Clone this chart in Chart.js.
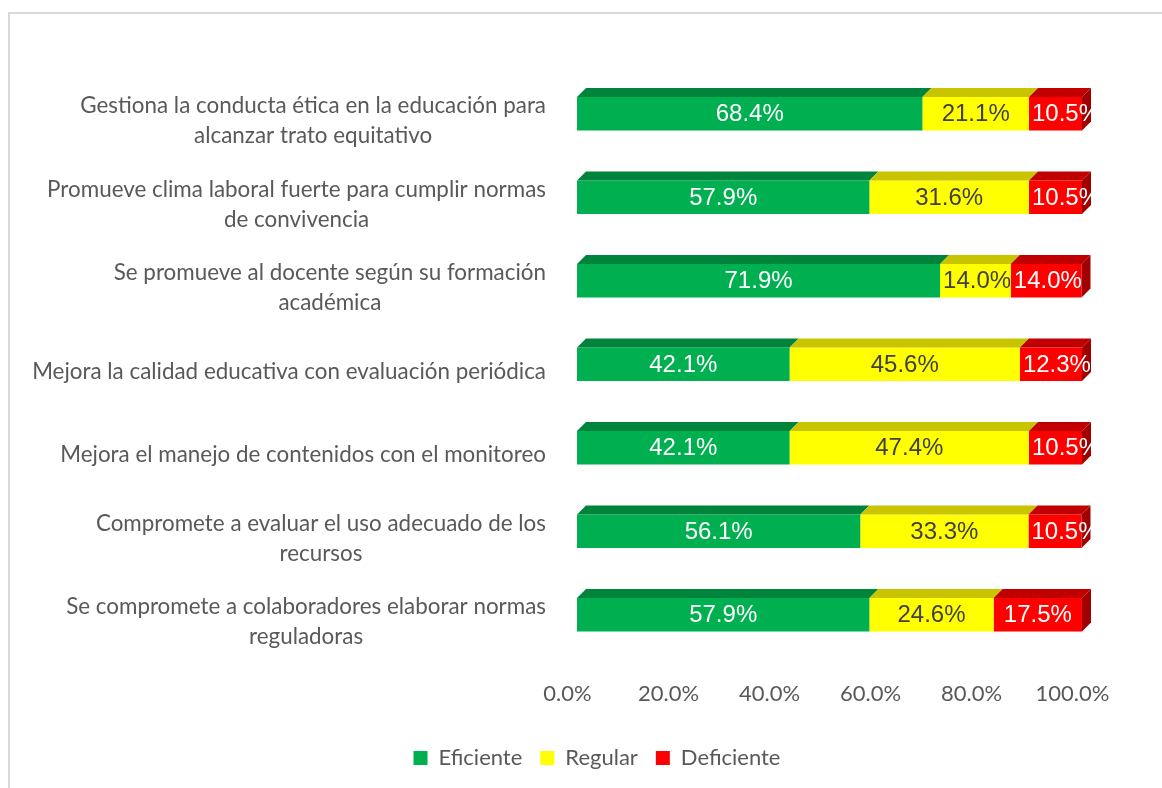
<!DOCTYPE html>
<html>
<head>
<meta charset="utf-8">
<script src="https://cdn.jsdelivr.net/npm/chart.js@4/dist/chart.umd.min.js"></script>
<style>
  body { margin: 0; background: #fff; }
</style>
</head>
<body>
<canvas id="chart" width="1162" height="788"></canvas>
<script>
const categories = [
  ["Gestiona la conducta ética en la educación para", "alcanzar trato equitativo"],
  ["Promueve clima laboral fuerte para cumplir normas", "de convivencia"],
  ["Se promueve al docente según su formación", "académica"],
  ["Mejora la calidad educativa con evaluación periódica"],
  ["Mejora el manejo de contenidos con el monitoreo"],
  ["Compromete a evaluar el uso adecuado de los", "recursos"],
  ["Se compromete a colaboradores elaborar normas", "reguladoras"]
];
const eficiente = [68.4, 57.9, 71.9, 42.1, 42.1, 56.1, 57.9];
const regular = [21.1, 31.6, 14.0, 45.6, 47.4, 33.3, 24.6];
const deficiente = [10.5, 10.5, 14.0, 12.3, 10.5, 10.5, 17.5];
const xTicks = [0, 20, 40, 60, 80, 100];

const DX = 9, DY = 9;
const topColors = ["#00843c", "#c8c400", "#c00000"];
const sideColor = "#a00000";
const labelColors = ["#ffffff", "#404040", "#ffffff"];

// frame of the chart (only top and left edges are visible)
const framePlugin = {
  id: "frame",
  beforeDraw(chart) {
    const ctx = chart.ctx;
    ctx.save();
    ctx.strokeStyle = "#d9d9d9";
    ctx.lineWidth = 2;
    ctx.beginPath();
    ctx.moveTo(9, 788);
    ctx.lineTo(9, 13);
    ctx.lineTo(1162, 13);
    ctx.stroke();
    ctx.restore();
  }
};

// fake 3d faces + value labels
const bars3d = {
  id: "bars3d",
  afterDatasetsDraw(chart) {
    const ctx = chart.ctx;
    const n = chart.data.datasets.length;
    ctx.save();
    for (let d = 0; d < n; d++) {
      const meta = chart.getDatasetMeta(d);
      meta.data.forEach((bar) => {
        const top = bar.y - bar.height / 2;
        ctx.fillStyle = topColors[d];
        ctx.beginPath();
        ctx.moveTo(bar.base, top);
        ctx.lineTo(bar.x, top);
        ctx.lineTo(bar.x + DX, top - DY);
        ctx.lineTo(bar.base + DX, top - DY);
        ctx.closePath();
        ctx.fill();
      });
    }
    const last = chart.getDatasetMeta(n - 1);
    ctx.fillStyle = sideColor;
    last.data.forEach((bar) => {
      const top = bar.y - bar.height / 2;
      const bot = bar.y + bar.height / 2;
      ctx.beginPath();
      ctx.moveTo(bar.x, top);
      ctx.lineTo(bar.x + DX, top - DY);
      ctx.lineTo(bar.x + DX, bot - DY);
      ctx.lineTo(bar.x, bot);
      ctx.closePath();
      ctx.fill();
    });
    ctx.font = "24px 'Liberation Sans', Arial, sans-serif";
    ctx.textAlign = "left";
    ctx.textBaseline = "middle";
    for (let d = 0; d < n; d++) {
      const meta = chart.getDatasetMeta(d);
      const vals = chart.data.datasets[d].data;
      ctx.fillStyle = labelColors[d];
      meta.data.forEach((bar, i) => {
        const txt = vals[i].toFixed(1) + "%";
        const w = ctx.measureText(txt).width;
        // keep label start inside its segment when it is wider than the segment
        const left = Math.max((bar.x + bar.base) / 2 - w / 2, bar.base + 3);
        ctx.fillText(txt, left, bar.y + 1);
      });
    }
    ctx.restore();
  }
};

// category labels: block right aligned, lines centred inside the block
const catLabels = {
  id: "catLabels",
  afterDraw(chart) {
    const ctx = chart.ctx;
    const y = chart.scales.y;
    ctx.save();
    ctx.font = "22.4px Lato, sans-serif";
    ctx.fillStyle = "#595959";
    ctx.textAlign = "center";
    ctx.textBaseline = "middle";
    const right = 546;
    const lh = 30;
    categories.forEach((lines, i) => {
      const w = Math.max(...lines.map((l) => ctx.measureText(l).width));
      const cx = right - w / 2;
      const cy = y.getPixelForValue(i) + 7.5;
      const y0 = cy - (lines.length - 1) * lh / 2;
      lines.forEach((l, k) => ctx.fillText(l, cx, y0 + k * lh));
    });
    ctx.restore();
  }
};

new Chart(document.getElementById("chart"), {
  type: "bar",
  data: {
    labels: categories,
    datasets: [
      { label: "Eficiente", data: eficiente, backgroundColor: "#00b050" },
      { label: "Regular", data: regular, backgroundColor: "#ffff00" },
      { label: "Deficiente", data: deficiente, backgroundColor: "#ff0000" }
    ]
  },
  options: {
    indexAxis: "y",
    responsive: false,
    devicePixelRatio: 1,
    animation: false,
    layout: { padding: { left: 32, right: 0, top: 72, bottom: 9 } },
    datasets: { bar: { barPercentage: 0.4, categoryPercentage: 1, borderWidth: 0 } },
    scales: {
      x: {
        stacked: true,
        min: 0,
        max: 100,
        afterBuildTicks(scale) {
          scale.ticks = xTicks.map((v) => ({ value: v }));
        },
        afterFit(scale) {
          scale.paddingRight = 80;
          scale.height = 72.5;
        },
        grid: { display: false, drawTicks: false },
        border: { display: false },
        ticks: {
          padding: 24,
          labelOffset: -9.5,
          color: "#595959",
          font: { family: "Lato, sans-serif", size: 22 },
          callback: (v) => v.toFixed(1) + "%"
        }
      },
      y: {
        stacked: true,
        afterFit(scale) {
          scale.width = 545;
        },
        grid: { display: false, drawTicks: false },
        border: { display: false },
        ticks: { display: false }
      }
    },
    plugins: {
      tooltip: { enabled: false },
      legend: {
        position: "bottom",
        labels: {
          boxWidth: 14,
          boxHeight: 14,
          padding: 18,
          color: "#595959",
          font: { family: "Lato, sans-serif", size: 22 }
        }
      }
    }
  },
  plugins: [framePlugin, bars3d, catLabels]
});
</script>
</body>
</html>
